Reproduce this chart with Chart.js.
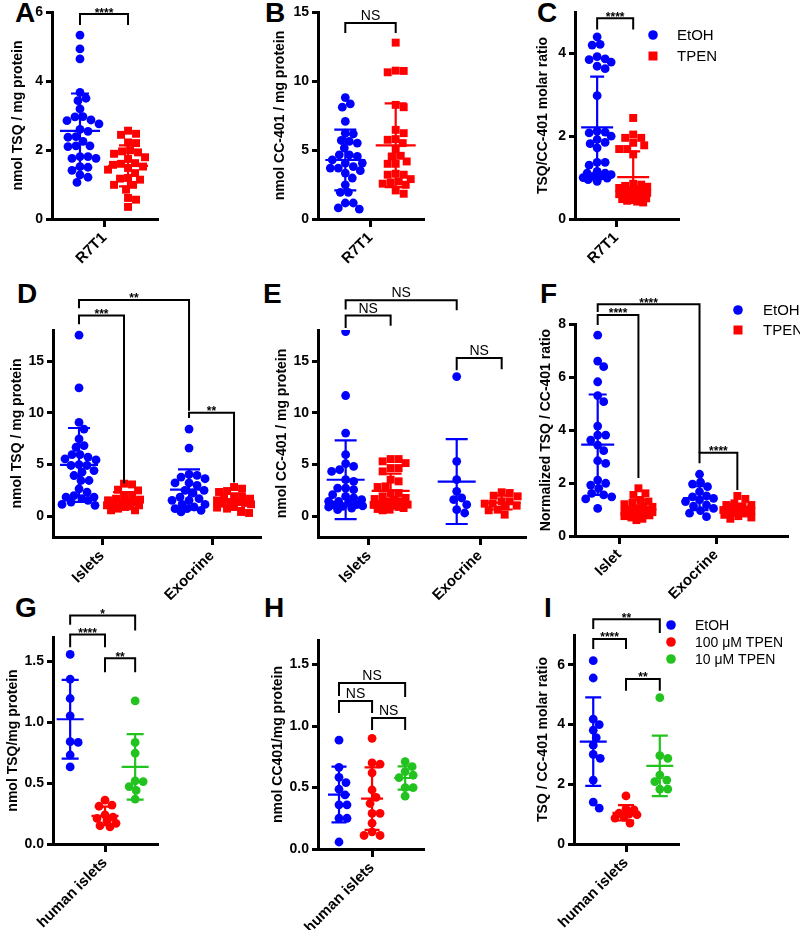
<!DOCTYPE html>
<html><head><meta charset="utf-8">
<script src="https://cdn.jsdelivr.net/npm/chart.js@4.4.1/dist/chart.umd.min.js"></script>
<style>
html,body{margin:0;padding:0;background:#fff;}
body{width:800px;height:930px;position:relative;overflow:hidden;}
canvas{position:absolute;}
.lt{position:absolute;font:bold 28px 'Liberation Sans',Arial,sans-serif;line-height:28px;color:#000;}
</style></head><body>
<div class="lt" style="left:15px;top:-1px">A</div>
<div class="lt" style="left:265px;top:-1px">B</div>
<div class="lt" style="left:537px;top:-1px">C</div>
<div class="lt" style="left:17px;top:280px">D</div>
<div class="lt" style="left:263px;top:280px">E</div>
<div class="lt" style="left:540px;top:280px">F</div>
<div class="lt" style="left:15px;top:594px">G</div>
<div class="lt" style="left:264px;top:594px">H</div>
<div class="lt" style="left:544px;top:594px">I</div>
<script>
// ---------- DATA ----------
const catR7T1 = ['R7T1'];
const catTissue = ['Islets', 'Exocrine'];
const catTissueF = ['Islet', 'Exocrine'];
const catHuman = ['human islets'];
const seriesMouse = ['EtOH', 'TPEN'];
const seriesHuman = ['EtOH', '100 μM TPEN', '10 μM TPEN'];

const ticksA = [0, 2, 4, 6];
const ticksB = [0, 5, 10, 15];
const ticksC = [0, 2, 4];
const ticksDE = [0, 5, 10, 15];
const ticksF = [0, 2, 4, 6, 8];
const ticksGH = [0, 0.5, 1.0, 1.5];
const ticksI = [0, 2, 4, 6];

const aEtOH = [5.33,4.93,4.64,3.67,3.43,3.50,3.19,2.96,2.97,2.85,2.87,2.76,2.60,2.54,2.39,2.37,2.25,2.12,2.10,2.12,1.76,1.81,1.76,1.81,1.52,1.50,1.41,1.28,1.21,1.06];
const aTPEN = [2.56,2.47,2.44,2.22,2.20,1.96,1.99,1.93,1.89,1.79,1.74,1.62,1.57,1.60,1.52,1.48,1.43,1.33,1.19,1.14,1.17,0.99,0.99,0.85,0.61,0.56,0.35];

const bEtOH = [8.80,8.34,8.10,7.07,6.22,6.17,5.62,5.69,5.14,5.50,4.65,4.53,4.65,4.29,4.05,4.05,3.69,3.69,3.33,2.97,2.48,1.93,1.93,1.16,1.16,0.72,0.80,3.80,3.50];
const bTPEN = [12.78,10.75,10.63,10.73,8.27,8.10,6.46,5.79,6.22,5.74,5.50,5.06,4.17,4.53,4.58,4.00,4.00,3.21,3.28,3.21,2.48,2.65,2.72,2.56,2.07,1.83,2.89];

const cEtOH = [4.40,4.22,4.20,3.92,3.87,3.85,3.79,3.69,3.63,2.98,2.12,2.10,2.08,2.00,1.92,1.85,1.72,1.82,1.37,1.37,1.30,1.15,1.11,1.11,1.07,1.03,0.99,1.03,0.91,1.00,0.95];
const cTPEN = [2.44,2.04,1.96,1.96,1.84,1.78,1.69,1.69,1.56,0.85,0.83,0.80,0.78,0.75,0.72,0.70,0.67,0.65,0.63,0.60,0.58,0.55,0.52,0.50,0.48,0.46,0.44,0.42,0.40];

const dIsletEtOH = [17.5,12.4,9.07,8.43,7.47,6.83,6.67,5.96,5.96,5.55,5.71,5.45,5.00,4.91,4.91,4.42,4.26,3.94,3.46,3.46,2.66,2.34,1.86,1.86,1.54,1.38,1.15,1.06,1.70,2.00];
const dIsletTPEN = [3.08,3.15,2.50,2.57,2.03,1.93,1.70,1.61,1.54,1.38,1.38,1.06,1.16,0.96,1.06,0.74,0.58,0.58,1.29,0.90];
const dExoEtOH = [8.43,6.59,4.05,3.95,3.79,3.63,3.22,3.22,2.99,2.51,2.51,2.25,1.86,1.70,1.54,1.54,1.15,1.15,0.90,0.74,0.42,0.74,0.58];
const dExoTPEN = [2.83,2.67,2.44,2.35,1.86,1.86,1.70,1.70,1.54,1.38,1.29,1.22,1.38,0.90,0.74,0.84,0.42,0.32,1.16];

const eIsletEtOH = [17.85,11.67,8.04,5.95,4.82,5.08,4.34,4.50,3.54,3.38,2.73,2.57,2.73,2.09,1.93,1.45,1.45,1.29,1.13,0.80,0.64,0.96,1.77,1.61,1.00,1.10,0.90];
const eIsletTPEN = [5.53,5.53,5.14,5.31,4.66,4.66,4.34,3.54,3.38,2.89,2.83,2.25,2.25,1.93,1.77,1.67,1.45,1.45,1.13,1.03,0.71,0.58,0.64,1.61,1.00,1.20,0.90,1.10,0.80];
const eExoEtOH = [13.5,5.31,3.54,2.41,1.77,1.61,1.13,0.64,0.32];
const eExoTPEN = [2.32,2.25,1.93,1.99,1.45,1.45,1.22,1.22,1.03,0.64,0.58,0.16,0.96];

const fIsletEtOH = [7.58,6.60,6.39,5.82,5.30,5.07,4.15,3.81,3.81,3.62,3.43,3.22,2.84,2.74,2.11,1.99,1.92,1.80,1.55,1.61,1.40,1.04,1.48];
const fIsletTPEN = [1.80,1.55,1.61,1.36,1.30,1.25,1.20,1.15,1.10,1.05,1.00,0.98,0.95,0.92,0.90,0.88,0.85,0.82,0.80,0.78,0.75,0.70,0.65,0.60];
const fExoEtOH = [2.33,2.03,1.96,1.86,1.67,1.48,1.42,1.36,1.30,1.17,1.13,1.04,0.96,0.73,0.86,1.51];
const fExoTPEN = [1.51,1.40,1.23,1.17,1.17,1.10,1.05,1.02,1.00,0.98,0.95,0.92,0.90,0.88,0.85,0.80,0.75,0.70,0.65];

const gEtOH = [1.557,1.353,1.195,1.053,0.840,0.834,0.731,0.633];
const g100 = [0.36,0.32,0.31,0.24,0.22,0.21,0.19,0.17,0.15,0.14];
const g10 = [1.175,0.834,0.747,0.513,0.518,0.472,0.440,0.368];

const hEtOH = [0.885,0.664,0.486,0.540,0.583,0.440,0.359,0.359,0.250,0.250,0.057];
const h100 = [0.90,0.69,0.70,0.62,0.48,0.42,0.37,0.29,0.29,0.21,0.14,0.11,0.11];
const h10 = [0.71,0.67,0.63,0.60,0.50,0.50,0.43,0.58];

const iEtOH = [6.14,5.56,4.18,4.00,3.81,3.56,3.31,3.00,2.87,2.14,1.40,1.20];
const i100 = [1.61,1.18,1.14,1.03,0.89,0.87,0.70,1.00,0.98];
const i10 = [4.90,2.96,2.87,2.31,2.09,2.14,1.84,1.84];

// ---------- STYLE / LAYOUT ----------
const FONT = "'Liberation Sans', Arial, Helvetica, sans-serif";
const BLUE = '#0000ff', RED = '#ff0000', GREEN = '#22c31f';
const DIA = 8;
Chart.defaults.font.family = FONT;
Chart.defaults.color = '#000';

function mean(a) { return a.reduce((s, v) => s + v, 0) / a.length; }
function sd(a) { const m = mean(a); return Math.sqrt(a.reduce((s, v) => s + (v - m) * (v - m), 0) / (a.length - 1)); }

const panels = [
  { id:'A', c:{l:10,t:0,w:185,h:300}, area:{l:52,t:12,r:157,b:219},
    y:{min:0,max:6,ticks:ticksA,dec:0,title:'nmol TSQ / mg protein'}, x:{min:-1,max:1,cats:catR7T1,pos:[0]},
    groups:[{cat:0,off:-0.467,data:aEtOH,color:BLUE,shape:'circle'},{cat:0,off:0.448,data:aTPEN,color:RED,shape:'rect'}],
    swarm:20, meanW:40, capW:18,
    brackets:[{a:0,b:1,y:5.94,y1:5.62,y2:5.62,t:'****'}] },
  { id:'B', c:{l:272,t:0,w:178,h:300}, area:{l:318,t:12,r:423,b:219},
    y:{min:0,max:15,ticks:ticksB,dec:0,title:'nmol CC-401 / mg protein'}, x:{min:-1,max:1,cats:catR7T1,pos:[0]},
    groups:[{cat:0,off:-0.48,data:bEtOH,color:BLUE,shape:'circle'},{cat:0,off:0.48,data:bTPEN,color:RED,shape:'rect'}],
    swarm:17, meanW:40, capW:22,
    brackets:[{a:0,b:1,y:14.2,y1:13.48,y2:13.48,t:'NS'}] },
  { id:'C', c:{l:535,t:0,w:265,h:300}, area:{l:575,t:12,r:678,b:219},
    y:{min:0,max:5,ticks:ticksC,dec:0,title:'TSQ/CC-401 molar ratio'}, x:{min:-0.8,max:1.2,cats:catR7T1,pos:[0]},
    groups:[{cat:0,off:-0.37,data:cEtOH,color:BLUE,shape:'circle'},{cat:0,off:0.33,data:cTPEN,color:RED,shape:'rect'}],
    swarm:14, meanW:32, capW:14,
    brackets:[{a:0,b:1,y:4.85,y1:4.58,y2:4.58,t:'****'}],
    legend:{x:653, ys:[35,56], tx:677, size:15, labels:seriesMouse, colors:[BLUE,RED], shapes:['circle','rect']} },
  { id:'D', c:{l:9,t:278,w:270,h:337}, area:{l:53,t:330,r:260,b:537},
    y:{min:-2,max:18,ticks:ticksDE,dec:0,title:'nmol TSQ / mg protein'}, x:{min:0.5545,max:2.436,cats:catTissue,pos:[1,2]},
    groups:[{cat:0,off:-0.209,data:dIsletEtOH,color:BLUE,shape:'circle'},{cat:0,off:0.2,data:dIsletTPEN,color:RED,shape:'rect'},
            {cat:1,off:-0.209,data:dExoEtOH,color:BLUE,shape:'circle'},{cat:1,off:0.2,data:dExoTPEN,color:RED,shape:'rect'}],
    swarm:17, meanW:38, capW:22,
    brackets:[{a:0,b:2,y:20.9,y1:20.1,y2:10.2,t:'**'},{a:0,b:1,y:19.4,y1:18.56,y2:3.17,t:'***'},{a:2,b:3,y:10.0,y1:9.5,y2:3.27,t:'**'}] },
  { id:'E', c:{l:274,t:278,w:270,h:337}, area:{l:318,t:330,r:525,b:537},
    y:{min:-2,max:18,ticks:ticksDE,dec:0,title:'nmol CC-401 / mg protein'}, x:{min:0.541,max:2.405,cats:catTissue,pos:[1,2]},
    groups:[{cat:0,off:-0.21,data:eIsletEtOH,color:BLUE,shape:'circle'},{cat:0,off:0.195,data:eIsletTPEN,color:RED,shape:'rect'},
            {cat:1,off:-0.21,data:eExoEtOH,color:BLUE,shape:'circle'},{cat:1,off:0.195,data:eExoTPEN,color:RED,shape:'rect'}],
    swarm:17, meanW:38, capW:22,
    brackets:[{a:0,b:2,y:20.87,y1:19.98,y2:19.9,t:'NS'},{a:0,b:1,y:19.4,y1:18.2,y2:18.4,t:'NS'},{a:2,b:3,y:15.3,y1:14.1,y2:14.2,t:'NS'}] },
  { id:'F', c:{l:538,t:278,w:262,h:337}, area:{l:575,t:324,r:787,b:536},
    y:{min:0,max:8,ticks:ticksF,dec:0,title:'Normalized TSQ / CC-401 ratio'}, x:{min:0.546,max:2.732,cats:catTissueF,pos:[1,2]},
    groups:[{cat:0,off:-0.22,data:fIsletEtOH,color:BLUE,shape:'circle'},{cat:0,off:0.2,data:fIsletTPEN,color:RED,shape:'rect'},
            {cat:1,off:-0.17,data:fExoEtOH,color:BLUE,shape:'circle'},{cat:1,off:0.22,data:fExoTPEN,color:RED,shape:'rect'}],
    swarm:14, meanW:33, capW:18,
    brackets:[{a:0,b:2,y:8.75,y1:8.45,y2:3.13,t:'****'},{a:0,b:1,y:8.34,y1:7.96,y2:2.19,t:'****'},{a:2,b:3,y:3.14,y1:2.75,y2:1.74,t:'****'}],
    legend:{x:738, ys:[310,330], tx:763, size:15, labels:seriesMouse, colors:[BLUE,RED], shapes:['circle','rect']} },
  { id:'G', c:{l:5,t:598,w:175,h:332}, area:{l:53,t:637,r:157,b:844},
    y:{min:0,max:1.7,ticks:ticksGH,dec:1,title:'nmol TSQ/mg protein'}, x:{min:-1,max:1,cats:catHuman,pos:[0]},
    groups:[{cat:0,off:-0.67,data:gEtOH,color:BLUE,shape:'circle'},{cat:0,off:0,data:g100,color:RED,shape:'circle'},{cat:0,off:0.58,data:g10,color:GREEN,shape:'circle'}],
    swarm:11, meanW:27, capW:17,
    brackets:[{a:0,b:2,y:1.877,y1:1.80,y2:1.754,t:'*'},{a:0,b:1,y:1.721,y1:1.615,y2:1.615,t:'****'},{a:1,b:2,y:1.525,y1:1.41,y2:1.41,t:'**'}] },
  { id:'H', c:{l:270,t:598,w:175,h:332}, area:{l:318,t:640,r:423,b:849},
    y:{min:0,max:1.7,ticks:ticksGH,dec:1,title:'nmol CC401/mg protein'}, x:{min:-1.03,max:0.97,cats:catHuman,pos:[0]},
    groups:[{cat:0,off:-0.63,data:hEtOH,color:BLUE,shape:'circle'},{cat:0,off:0,data:h100,color:RED,shape:'circle'},{cat:0,off:0.63,data:h10,color:GREEN,shape:'circle'}],
    swarm:10, meanW:22, capW:15,
    brackets:[{a:0,b:2,y:1.35,y1:1.244,y2:1.236,t:'NS'},{a:0,b:1,y:1.203,y1:1.106,y2:1.106,t:'NS'},{a:1,b:2,y:1.065,y1:0.967,y2:0.967,t:'NS'}] },
  { id:'I', c:{l:535,t:598,w:265,h:332}, area:{l:574,t:635,r:678,b:844},
    y:{min:0,max:7,ticks:ticksI,dec:0,title:'TSQ / CC-401 molar ratio'}, x:{min:-1,max:1,cats:catHuman,pos:[0]},
    groups:[{cat:0,off:-0.63,data:iEtOH,color:BLUE,shape:'circle'},{cat:0,off:0,data:i100,color:RED,shape:'circle'},{cat:0,off:0.65,data:i10,color:GREEN,shape:'circle'}],
    swarm:11, meanW:27, capW:16,
    brackets:[{a:0,b:2,y:7.53,y1:7.2,y2:7.07,t:'**'},{a:0,b:1,y:6.87,y1:6.53,y2:6.53,t:'****'},{a:1,b:2,y:5.53,y1:5.13,y2:5.13,t:'**'}],
    legend:{x:671, ys:[625,642,659], tx:695, size:14, labels:seriesHuman, colors:[BLUE,RED,GREEN], shapes:['circle','circle','circle']} }
];

function drawMarker(ctx, shape, x, y, color) {
  ctx.fillStyle = color;
  ctx.beginPath();
  if (shape === 'rect') ctx.rect(x - 4.5, y - 4.5, 9, 9);
  else ctx.arc(x, y, 4.8, 0, Math.PI * 2);
  ctx.fill();
}

function makePanel(p) {
  const cv = document.createElement('canvas');
  cv.width = p.c.w; cv.height = p.c.h;
  cv.style.left = p.c.l + 'px'; cv.style.top = p.c.t + 'px';
  cv.style.width = p.c.w + 'px'; cv.style.height = p.c.h + 'px';
  document.body.appendChild(cv);
  const yW = p.area.l - p.c.l, padT = p.area.t - p.c.t;
  const padR = p.c.l + p.c.w - p.area.r, xH = p.c.t + p.c.h - p.area.b;
  const gx = g => p.x.pos[g.cat] + g.off;

  const deco = {
    id: 'deco' + p.id,
    afterDatasetsDraw(chart) {
      const ctx = chart.ctx, xs = chart.scales.x, ys = chart.scales.y;
      ctx.save();
      ctx.lineWidth = 2.2;
      p.groups.forEach(g => {
        const m = mean(g.data), s = sd(g.data);
        const cx = xs.getPixelForValue(gx(g));
        const yt = ys.getPixelForValue(m + s), yb = ys.getPixelForValue(m - s), ym = ys.getPixelForValue(m);
        ctx.strokeStyle = g.color;
        ctx.beginPath();
        ctx.moveTo(cx, yt); ctx.lineTo(cx, yb);
        ctx.moveTo(cx - p.capW / 2, yt); ctx.lineTo(cx + p.capW / 2, yt);
        ctx.moveTo(cx - p.capW / 2, yb); ctx.lineTo(cx + p.capW / 2, yb);
        ctx.moveTo(cx - p.meanW / 2, ym); ctx.lineTo(cx + p.meanW / 2, ym);
        ctx.stroke();
      });
      ctx.restore();
    },
    afterDraw(chart) {
      const ctx = chart.ctx, xs = chart.scales.x, ys = chart.scales.y;
      ctx.save();
      ctx.strokeStyle = '#000'; ctx.fillStyle = '#000'; ctx.lineWidth = 2;
      ctx.lineJoin = 'miter';
      p.brackets.forEach(b => {
        const x1 = xs.getPixelForValue(gx(p.groups[b.a])), x2 = xs.getPixelForValue(gx(p.groups[b.b]));
        const yt = ys.getPixelForValue(b.y), y1 = ys.getPixelForValue(b.y1), y2 = ys.getPixelForValue(b.y2);
        ctx.beginPath(); ctx.moveTo(x1, y1); ctx.lineTo(x1, yt); ctx.lineTo(x2, yt); ctx.lineTo(x2, y2); ctx.stroke();
        ctx.textAlign = 'center'; ctx.textBaseline = 'alphabetic';
        if (b.t === 'NS') { ctx.font = '14px ' + FONT; ctx.fillText(b.t, (x1 + x2) / 2, yt - 3); }
        else { ctx.font = 'bold 12px ' + FONT; ctx.fillText(b.t, (x1 + x2) / 2, yt + 2.5); }
      });
      if (p.legend) {
        const L = p.legend;
        L.labels.forEach((lab, i) => {
          const y = L.ys[i] - p.c.t;
          drawMarker(ctx, L.shapes[i], L.x - p.c.l, y, L.colors[i]);
          ctx.fillStyle = '#000';
          ctx.font = L.size + 'px ' + FONT;
          ctx.textAlign = 'left'; ctx.textBaseline = 'middle';
          ctx.fillText(lab, L.tx - p.c.l, y + 1);
        });
      }
      ctx.restore();
    }
  };

  const chart = new Chart(cv, {
    type: 'scatter',
    data: {
      datasets: p.groups.map(g => ({
        data: g.data.map(v => ({ x: gx(g), y: v })),
        backgroundColor: g.color, borderWidth: 0,
        pointStyle: g.shape, pointRadius: g.shape === 'rect' ? 5.6 : 4.4, pointHoverRadius: g.shape === 'rect' ? 5.6 : 4.4
      }))
    },
    options: {
      responsive: false, animation: false, devicePixelRatio: 1,
      layout: { padding: { left: 0, top: padT, right: padR, bottom: 0 } },
      plugins: { legend: { display: false }, tooltip: { enabled: false } },
      scales: {
        x: {
          type: 'linear', min: p.x.min, max: p.x.max,
          afterBuildTicks: s => { s.ticks = p.x.pos.map(v => ({ value: v })); },
          afterFit: s => { s.height = xH; },
          grid: { drawOnChartArea: false, drawTicks: true, tickLength: 8, lineWidth: 3, color: '#000' },
          border: { display: true, width: 3, color: '#000' },
          ticks: { autoSkip: false, minRotation: 45, maxRotation: 45, padding: 2,
                   font: { size: 15, weight: 'bold', family: FONT }, color: '#000',
                   callback: (v, i) => p.x.cats[i] }
        },
        y: {
          type: 'linear', min: p.y.min, max: p.y.max,
          afterBuildTicks: s => { s.ticks = p.y.ticks.map(v => ({ value: v })); },
          afterFit: s => { s.width = yW; },
          grid: { drawOnChartArea: false, drawTicks: true, tickLength: 6, lineWidth: 3, color: '#000' },
          border: { display: true, width: 3, color: '#000' },
          ticks: { padding: 3, font: { size: 14, weight: 'bold', family: FONT }, color: '#000',
                   callback: v => Number(v).toFixed(p.y.dec) },
          title: { display: true, text: p.y.title, padding: { top: 0, bottom: 0 },
                   font: { size: 14, weight: 'bold', family: FONT, lineHeight: 1.2 }, color: '#000' }
        }
      }
    },
    plugins: [deco]
  });

  // deterministic beeswarm placement of points within each group
  const xs = chart.scales.x, ys = chart.scales.y;
  p.groups.forEach((g, i) => {
    const cx = xs.getPixelForValue(gx(g));
    const placed = [], offs = [];
    const order = g.data.map((v, k) => k).sort((a, b) => g.data[b] - g.data[a]);
    order.forEach(k => {
      const py = ys.getPixelForValue(g.data[k]);
      let best = 0, bestD = -1;
      outer: for (let s = 0; s <= p.swarm; s++) {
        const cands = s === 0 ? [0] : [s, -s];
        for (const ox of cands) {
          let md = Infinity;
          placed.forEach(q => { const d = Math.hypot(q[0] - ox, q[1] - py); if (d < md) md = d; });
          if (md >= DIA) { best = ox; break outer; }
          if (md > bestD) { bestD = md; best = ox; }
        }
      }
      placed.push([best, py]); offs[k] = best;
    });
    chart.data.datasets[i].data = g.data.map((v, k) => ({ x: xs.getValueForPixel(cx + offs[k]), y: v }));
  });
  chart.update('none');
}

panels.forEach(makePanel);
</script>
</body></html>
